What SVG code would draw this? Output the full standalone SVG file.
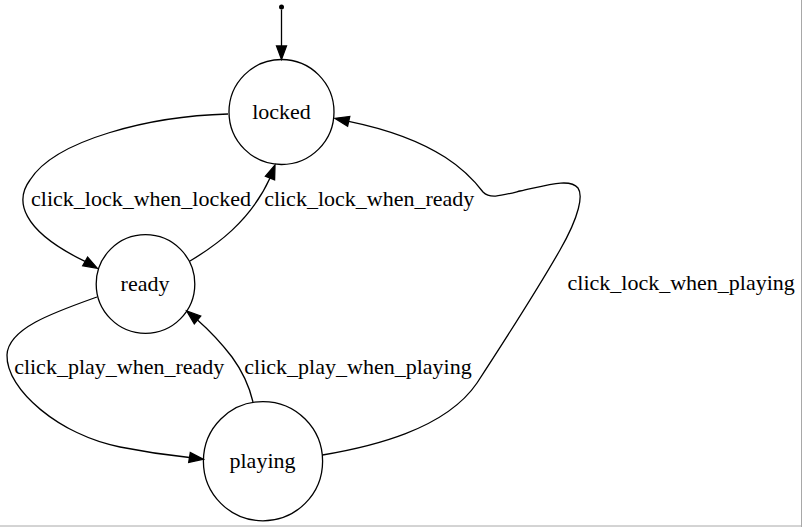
<svg xmlns="http://www.w3.org/2000/svg" width="802" height="527" viewBox="0 0 802 527">
<style>
.node circle{fill:none;stroke:#000;stroke-width:1.3}
text{font-family:"Liberation Serif","Times New Roman",serif;font-size:22px;fill:#000;text-anchor:middle}
.edge path{fill:none;stroke:#000;stroke-width:1.3}
.edge polygon{fill:#000;stroke:#000;stroke-width:1.3}
</style>
<rect x="0" y="0" width="802" height="527" fill="#fff"/>
<line x1="801.5" y1="0" x2="801.5" y2="527" stroke="#a8a8a8" stroke-width="1"/>
<line x1="0" y1="526" x2="802" y2="526" stroke="#a8a8a8" stroke-width="1"/>
<g id="start"><circle cx="281.5" cy="7" r="2.5" fill="#000"/></g>
<g id="locked" class="node"><circle cx="281.5" cy="112" r="52.5"/><text x="281.5" y="118.5">locked</text></g>
<g id="ready" class="node"><circle cx="145.5" cy="284" r="49.3"/><text x="145" y="290.5">ready</text></g>
<g id="playing" class="node"><circle cx="263" cy="461.2" r="59.6"/><text x="262.5" y="467.5">playing</text></g>
<g id="edges" class="edge">
<path d="M281.5,9.5 L281.5,46"/>
<polygon points="276.5,46 286.5,46 281.5,59.5"/>
<path d="M228,114 C150,116 55,140 30,180 C15,200 20,230 85,261.4"/>
<polygon points="82.7,265.8 87.6,257.1 97.3,268.3"/>
<text x="141" y="206">click_lock_when_locked</text>
<path d="M190,261 C215,246 250,222 270,178"/>
<polygon points="274.6,179.8 265.4,176.2 275,165"/>
<text x="369.2" y="206">click_lock_when_ready</text>
<path d="M322.5,455 C370,447 445,430 477,383 C505,340 540,285 560,250 C580,215 583,195 578,188 C570,178 548,185 520,191 C500,196 490,199 483,192 C470,175 440,140 348.7,121.3"/>
<polygon points="349.8,116.4 347.6,126.2 335,118.3"/>
<text x="681.2" y="290">click_lock_when_playing</text>
<path d="M97,297 C55,312 8,328 7,355 C6,390 60,435 120,447 C145,452 165,455 189.5,457.5"/>
<polygon points="190.3,452.6 188.7,462.4 203.3,459.3"/>
<text x="119.2" y="373.5">click_play_when_ready</text>
<path d="M253,402 C249,385 243,372 232,357 C222,344 210,331 197.5,320"/>
<polygon points="200.7,316 194.3,323.8 186.7,311"/>
<text x="358" y="373.5">click_play_when_playing</text>
</g>
</svg>
